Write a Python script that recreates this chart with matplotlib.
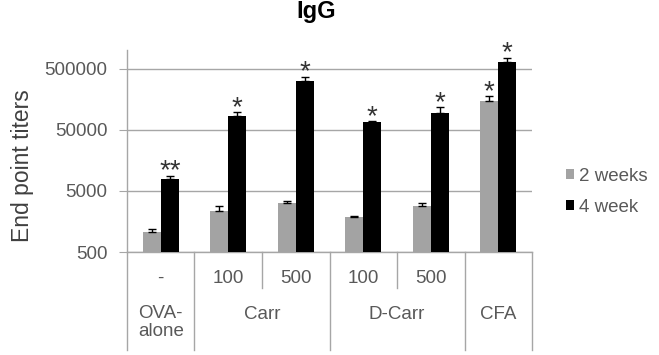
import matplotlib
matplotlib.use("Agg")
import matplotlib.pyplot as plt
import matplotlib.transforms as mtransforms
import numpy as np

plt.rcParams["font.family"] = ["Liberation Sans", "DejaVu Sans"]

# ---- data ----
dose_labels = ["-", "100", "500", "100", "500", ""]
group_labels = ["OVA-\nalone", "Carr", "D-Carr", "CFA"]
group_spans = [(0, 0), (1, 2), (3, 4), (5, 5)]

weeks2 = [1070, 2350, 3180, 1870, 2840, 150000]
weeks2_err = [110, 490, 250, 80, 340, 30000]
weeks4 = [7850, 84800, 318000, 67700, 95000, 652000]
weeks4_err = [1050, 13800, 52000, 2300, 24000, 106000]
stars2 = ["", "", "", "", "", "*"]
stars4 = ["**", "*", "*", "*", "*", "*"]

yticks = [500, 5000, 50000, 500000]

GRAY = "#a3a3a3"
GRID = "#a6a6a6"
TXT = "#595959"
FS = 13.5

fig = plt.figure(figsize=(6.59, 3.55), dpi=100)
ax = fig.add_axes([0.1927, 0.2901, 0.6146, 0.5690])

x = np.arange(len(weeks2))
w = 0.27
ax.bar(x - w / 2, weeks2, w, color=GRAY, zorder=3, label="2 weeks",
       yerr=[np.zeros(len(x)), weeks2_err],
       error_kw=dict(ecolor="black", elinewidth=1, capsize=3, capthick=1, zorder=4))
ax.bar(x + w / 2, weeks4, w, color="black", zorder=3, label="4 week",
       yerr=[np.zeros(len(x)), weeks4_err],
       error_kw=dict(ecolor="black", elinewidth=1, capsize=3, capthick=1, zorder=4))

# significance stars above the error caps
for xi, v, e, s in zip(x, weeks2, weeks2_err, stars2):
    if s:
        ax.annotate(s, (xi - w / 2, v + e), xytext=(0, -2), textcoords="offset points",
                    ha="center", va="baseline", fontsize=20, color="#333333")
for xi, v, e, s in zip(x, weeks4, weeks4_err, stars4):
    if s:
        ax.annotate(s, (xi + w / 2, v + e), xytext=(0, -2), textcoords="offset points",
                    ha="center", va="baseline", fontsize=20, color="#333333")

ax.set_yscale("log")
ax.set_ylim(500, 1.02e6)
ax.set_xlim(-0.5, 5.5)
ax.set_yticks(yticks)
ax.set_yticklabels([str(t) for t in yticks])
ax.yaxis.set_minor_locator(matplotlib.ticker.NullLocator())
ax.tick_params(axis="y", length=6, color=GRID, labelsize=FS, labelcolor=TXT, pad=8)
ax.tick_params(axis="x", length=0, labelbottom=False)
ax.grid(axis="y", color=GRID, lw=1, zorder=0)
for side in ("top", "right"):
    ax.spines[side].set_visible(False)
for side in ("left", "bottom"):
    ax.spines[side].set_color(GRID)
    ax.spines[side].set_linewidth(1)

ax.set_ylabel("End point titers", fontsize=16.5, color="#404040")
ax.yaxis.set_label_coords(-0.23, 0.43)
fig.text(0.48, 0.949, "IgG", ha="center", va="baseline", fontsize=17, weight="bold")

# category table below the axis
trans = mtransforms.blended_transform_factory(ax.transData, ax.transAxes)
full = [-0.5, 0.5, 2.5, 4.5, 5.5]
short = [1.5, 3.5]
for b in full:
    ax.plot([b, b], [0, -0.485], transform=trans, color=GRID, lw=1, clip_on=False)
for b in short:
    ax.plot([b, b], [0, -0.178], transform=trans, color=GRID, lw=1, clip_on=False)
for xi, lab in zip(x, dose_labels):
    ax.text(xi, -0.13, lab, transform=trans, ha="center", va="center",
            fontsize=FS, color=TXT)
for (a, b), lab in zip(group_spans, group_labels):
    yy = -0.35 if "\n" in lab else -0.31
    ax.text((a + b) / 2, yy, lab, transform=trans, ha="center", va="center",
            fontsize=FS, color=TXT, linespacing=1.1)

ax.legend(loc="center left", bbox_to_anchor=(1.084, 0.297), frameon=False,
          fontsize=FS, labelcolor=TXT, handlelength=0.45, handleheight=0.45,
          handletextpad=0.25, labelspacing=0.75, borderpad=0, borderaxespad=0)

fig.savefig("out.png", dpi=100)
